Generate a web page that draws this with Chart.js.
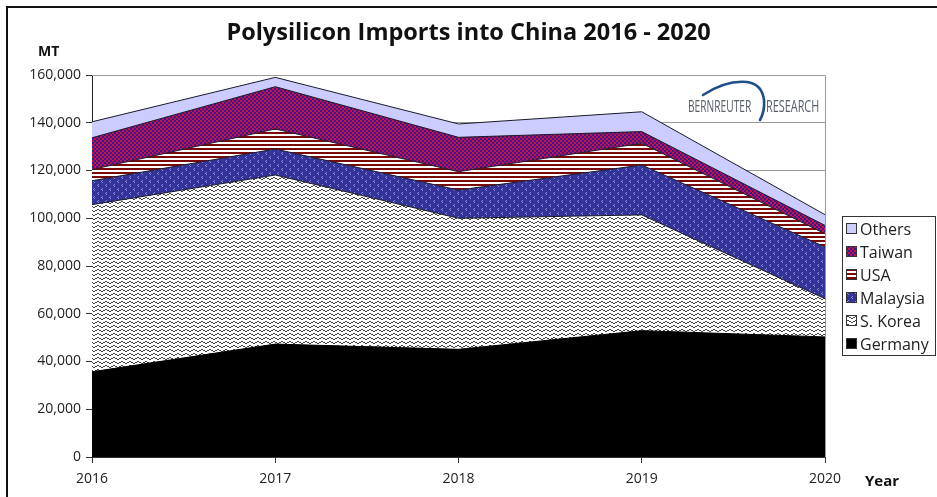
<!DOCTYPE html>
<html>
<head>
<meta charset="utf-8">
<script src="https://cdn.jsdelivr.net/npm/chart.js@4.4.1/dist/chart.umd.min.js"></script>
<style>
  html, body { margin:0; padding:0; background:#fff; }
  body { width:937px; height:497px; position:relative; overflow:hidden; font-family:"Open Sans", "Noto Sans", sans-serif; }
  #frame { position:absolute; left:6px; top:6px; width:960px; height:520px; border-top:2px solid #111; border-left:2px solid #111; }
  #wrap { position:absolute; left:0; top:0; width:937px; height:497px; }
  #title { position:absolute; left:0; width:937px; top:15px; text-align:center; font-weight:700; font-size:23.5px; color:#111; }
  #mt { position:absolute; left:38px; top:41px; font-weight:700; font-size:14px; color:#111; }
  #year { position:absolute; left:865px; top:470px; font-weight:700; font-size:15px; color:#111; }
  #legend { position:absolute; left:842px; top:216px; width:94px; height:140px; border:1px solid #333; box-sizing:border-box; background:#fff; padding-top:0px; }
  .li { height:23px; display:flex; align-items:center; font-size:16px; color:#222; padding-left:3px; }
  .li canvas { width:11px; height:11px; margin-right:3px; }
  #logo { position:absolute; left:686px; top:78px; width:138px; height:44px; }
  #logo .t { position:absolute; top:16px; font-size:17px; color:#56606a; white-space:nowrap; font-family:"Open Sans", sans-serif; transform-origin:0 0; }
</style>
</head>
<body>
<div id="frame"></div>
<div id="wrap"><canvas id="c" width="937" height="497"></canvas></div>
<div id="title">Polysilicon Imports into China 2016 - 2020</div>
<div id="mt">MT</div>
<div id="year">Year</div>
<div id="logo">
  <svg width="138" height="44" style="position:absolute;left:0;top:0">
    <path d="M 17 17 Q 40 2 61 4 Q 76 6 78 22 Q 79 33 74 42" stroke="#1f4f86" stroke-width="2.6" fill="none" stroke-linecap="round"/>
  </svg>
  <span class="t" style="left:2px; transform:scaleX(0.6)">BERNREUTER</span>
  <span class="t" style="left:80px; transform:scaleX(0.64)">RESEARCH</span>
</div>
<div id="legend"></div>
<script>
// ---- Data (metric tons) ----
const years    = ['2016', '2017', '2018', '2019', '2020'];
const germany  = [35700, 47300, 45100, 52900, 50300];
const sKorea   = [70000, 70800, 54900, 48500, 16000];
const malaysia = [10000, 10900, 11800, 20900, 21700];
const usa      = [4700, 8400, 7700, 9100, 5500];
const taiwan   = [13300, 17700, 14400, 4900, 3500];
const others   = [6700, 3900, 5600, 8300, 4500];
const seriesNames = ['Germany', 'S. Korea', 'Malaysia', 'USA', 'Taiwan', 'Others'];
const yMin = 0, yMax = 160000, yStep = 20000;

// ---- Patterns ----
function makeCanvas(w, h, draw) {
  const c = document.createElement('canvas');
  c.width = w; c.height = h;
  const g = c.getContext('2d');
  draw(g);
  return c;
}
function px(g, pts, col) { g.fillStyle = col; pts.forEach(p => g.fillRect(p[0], p[1], 1, 1)); }
const tiles = {
  'Germany': makeCanvas(4, 4, g => { g.fillStyle = '#000'; g.fillRect(0,0,4,4); }),
  'S. Korea': makeCanvas(8, 4, g => {
    g.fillStyle = '#fff'; g.fillRect(0,0,8,4);
    px(g, [[0,2],[1,1],[2,1],[3,2],[4,2],[5,3],[6,3],[7,2]], '#444');
  }),
  'Malaysia': makeCanvas(8, 8, g => {
    g.fillStyle = '#333399'; g.fillRect(0,0,8,8);
    px(g, [[2,0],[1,1],[2,2],[6,4],[5,5],[6,6]], '#8c8cd0');
  }),
  'USA': makeCanvas(4, 4, g => {
    g.fillStyle = '#fff'; g.fillRect(0,0,4,4);
    g.fillStyle = '#7a0a0a'; g.fillRect(0,0,4,2);
  }),
  'Taiwan': makeCanvas(4, 4, g => {
    g.fillStyle = '#2e1a9a'; g.fillRect(0,0,4,4);
    g.fillStyle = '#d0103a'; g.fillRect(0,0,2,2); g.fillRect(2,2,2,2);
  }),
  'Others': makeCanvas(4, 4, g => { g.fillStyle = '#ccccff'; g.fillRect(0,0,4,4); })
};
const ctx = document.getElementById('c').getContext('2d');
const pat = name => ctx.createPattern(tiles[name], 'repeat');

const values = [germany, sKorea, malaysia, usa, taiwan, others];
const datasets = seriesNames.map((name, i) => ({
  label: name,
  data: values[i],
  backgroundColor: pat(name),
  borderColor: i === 0 ? '#000' : '#1a1a2a',
  borderWidth: 1,
  fill: i === 0 ? 'origin' : '-1',
  pointRadius: 0,
  tension: 0
}));

const frame = {
  id: 'frame',
  afterDatasetsDraw(chart) {
    const a = chart.chartArea, g = chart.ctx;
    g.save();
    g.strokeStyle = '#9a9a9a'; g.lineWidth = 1;
    g.beginPath();
    g.moveTo(a.left, a.top + 0.5); g.lineTo(a.right + 0.5, a.top + 0.5); g.lineTo(a.right + 0.5, a.bottom);
    g.stroke();
    g.restore();
  }
};

new Chart(ctx, {
  type: 'line',
  data: { labels: years, datasets },
  options: {
    responsive: false,
    animation: false,
    layout: { padding: { left: 0, top: 75, right: 112, bottom: 0 } },
    plugins: { legend: { display: false }, tooltip: { enabled: false }, title: { display: false } },
    scales: {
      x: {
        type: 'category',
        offset: false,
        grid: { display: true, drawOnChartArea: false, tickLength: 6, tickColor: '#333' },
        border: { color: '#333' },
        ticks: { font: { family: 'Open Sans', size: 14 }, color: '#222', padding: 8, maxRotation: 0, autoSkip: false },
        afterFit(s) { s.height = 40; }
      },
      y: {
        stacked: true,
        min: yMin, max: yMax,
        ticks: { stepSize: yStep, font: { family: 'Open Sans', size: 14 }, color: '#222', padding: 5 },
        grid: { color: '#9a9a9a', tickLength: 6, tickColor: '#333' },
        border: { color: '#222' },
        afterFit(s) { s.width = 92; }
      }
    }
  },
  plugins: [frame]
});

// ---- Legend ----
const leg = document.getElementById('legend');
seriesNames.slice().reverse().forEach(name => {
  const row = document.createElement('div');
  row.className = 'li';
  const m = document.createElement('canvas');
  m.width = 11; m.height = 11;
  const g = m.getContext('2d');
  g.fillStyle = g.createPattern(tiles[name], 'repeat');
  g.fillRect(0, 0, 11, 11);
  g.strokeStyle = '#333'; g.lineWidth = 1; g.strokeRect(0.5, 0.5, 10, 10);
  row.appendChild(m);
  const s = document.createElement('span');
  s.textContent = name;
  row.appendChild(s);
  leg.appendChild(row);
});
</script>
</body>
</html>
